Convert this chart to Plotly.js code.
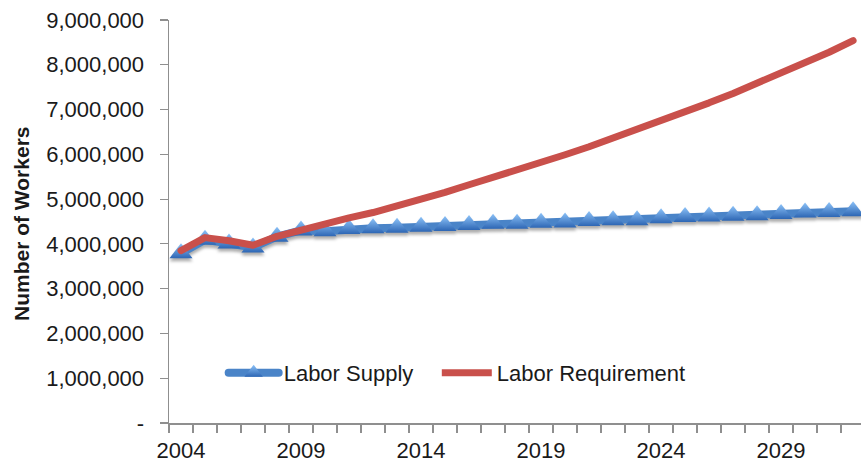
<!DOCTYPE html>
<html>
<head>
<meta charset="utf-8">
<script src="https://cdn.plot.ly/plotly-3.0.1.min.js"></script>
<style>
  html, body { margin: 0; padding: 0; background: #fff; overflow: hidden; }
  #chart { width: 861px; height: 463px; }
  /* soft drop shadow under the supply series */
  #chart .scatterlayer .trace:first-child {
    filter: drop-shadow(0px 3px 1.5px rgba(0, 0, 0, 0.32));
  }
  /* rounded joins and caps on the thick series lines */
  #chart .scatterlayer path.js-line,
  #chart .legend path.js-line {
    stroke-linejoin: round;
    stroke-linecap: round;
  }
</style>
</head>
<body>
<div id="chart"></div>
<script>
// Projected workforce: supply vs. requirement, 2004-2032
const years = [2004, 2005, 2006, 2007, 2008, 2009, 2010, 2011, 2012, 2013,
               2014, 2015, 2016, 2017, 2018, 2019, 2020, 2021, 2022, 2023,
               2024, 2025, 2026, 2027, 2028, 2029, 2030, 2031, 2032];

const laborSupply = [3790000, 4090000, 4010000, 3920000, 4160000, 4300000, 4280000, 4330000, 4350000, 4360000,
                     4380000, 4400000, 4420000, 4450000, 4450000, 4470000, 4480000, 4510000, 4530000, 4530000,
                     4570000, 4600000, 4610000, 4630000, 4640000, 4670000, 4700000, 4710000, 4730000];

const laborRequirement = [3850000, 4140000, 4070000, 3970000, 4170000, 4320000, 4470000, 4580000, 4700000, 4840000,
                          5000000, 5150000, 5320000, 5480000, 5650000, 5820000, 5990000, 6170000, 6360000, 6550000,
                          6750000, 6950000, 7150000, 7360000, 7580000, 7800000, 8030000, 8280000, 8540000];

const xTickVals = [2004, 2009, 2014, 2019, 2024, 2029];
const xTickText = ['2004', '2009', '2014', '2019', '2024', '2029'];
const yTickVals = [0, 1000000, 2000000, 3000000, 4000000, 5000000, 6000000, 7000000, 8000000, 9000000];
const yTickText = ['-', '1,000,000', '2,000,000', '3,000,000', '4,000,000', '5,000,000',
                   '6,000,000', '7,000,000', '8,000,000', '9,000,000'];

const FONT = '"Liberation Sans", Arial, Helvetica, sans-serif';
const AXIS_GREY = '#8f8f8f';
const TEXT = '#1a1a1a';

const traces = [
  {
    x: years,
    y: laborSupply,
    name: 'Labor Supply',
    type: 'scatter',
    mode: 'lines+markers',
    legend: 'legend',
    line: { color: '#4a84c8', width: 8 },
    marker: {
      symbol: 'triangle-up',
      size: 20,
      color: '#8cc2f8',
      gradient: { type: 'vertical', color: '#2d66b4' },
      line: { width: 0 }
    }
  },
  {
    x: years,
    y: laborRequirement,
    name: 'Labor Requirement',
    type: 'scatter',
    mode: 'lines',
    legend: 'legend2',
    line: { color: '#c9504b', width: 7 }
  }
];

// one legend box per series so each entry sits at its own spot
const legendBase = {
  orientation: 'h',
  xanchor: 'left',
  y: 0.124,
  yanchor: 'middle',
  bgcolor: 'rgba(0,0,0,0)',
  font: { family: FONT, size: 22, color: TEXT },
  itemwidth: 50
};

const layout = {
  width: 861,
  height: 463,
  margin: { l: 169, r: 0, t: 20, b: 40 },
  paper_bgcolor: '#ffffff',
  plot_bgcolor: '#ffffff',
  font: { family: FONT, size: 22, color: TEXT },
  showlegend: true,
  legend: Object.assign({}, legendBase, { x: 0.079 }),
  legend2: Object.assign({}, legendBase, { x: 0.387 }),
  xaxis: {
    type: 'linear',
    range: [2003.5, 2032.33],
    showgrid: false,
    zeroline: false,
    showline: true,
    linecolor: AXIS_GREY,
    linewidth: 1.5,
    tickmode: 'array',
    tickvals: xTickVals,
    ticktext: xTickText,
    ticks: '',
    ticklabelstandoff: 7,
    tickfont: { family: FONT, size: 22, color: TEXT },
    minor: {
      ticks: 'outside',
      tick0: 2003.5,
      dtick: 1,
      ticklen: 8,
      tickwidth: 1.2,
      tickcolor: AXIS_GREY,
      showgrid: false
    },
    fixedrange: true
  },
  yaxis: {
    range: [0, 9000000],
    showgrid: false,
    zeroline: false,
    showline: true,
    linecolor: AXIS_GREY,
    linewidth: 1.5,
    tickmode: 'array',
    tickvals: yTickVals,
    ticktext: yTickText,
    ticks: 'outside',
    ticklen: 8,
    tickwidth: 1.2,
    tickcolor: AXIS_GREY,
    ticklabelstandoff: 11,
    tickfont: { family: FONT, size: 22, color: TEXT },
    fixedrange: true
  },
  annotations: [
    {
      text: '<b>Number of Workers</b>',
      xref: 'paper',
      yref: 'paper',
      x: (21 - 169) / 692,
      y: (423 - 224) / 403,
      xanchor: 'center',
      yanchor: 'middle',
      textangle: -90,
      showarrow: false,
      font: { family: FONT, size: 21, color: TEXT }
    }
  ]
};

Plotly.newPlot('chart', traces, layout, { staticPlot: true, displayModeBar: false });
</script>
</body>
</html>
